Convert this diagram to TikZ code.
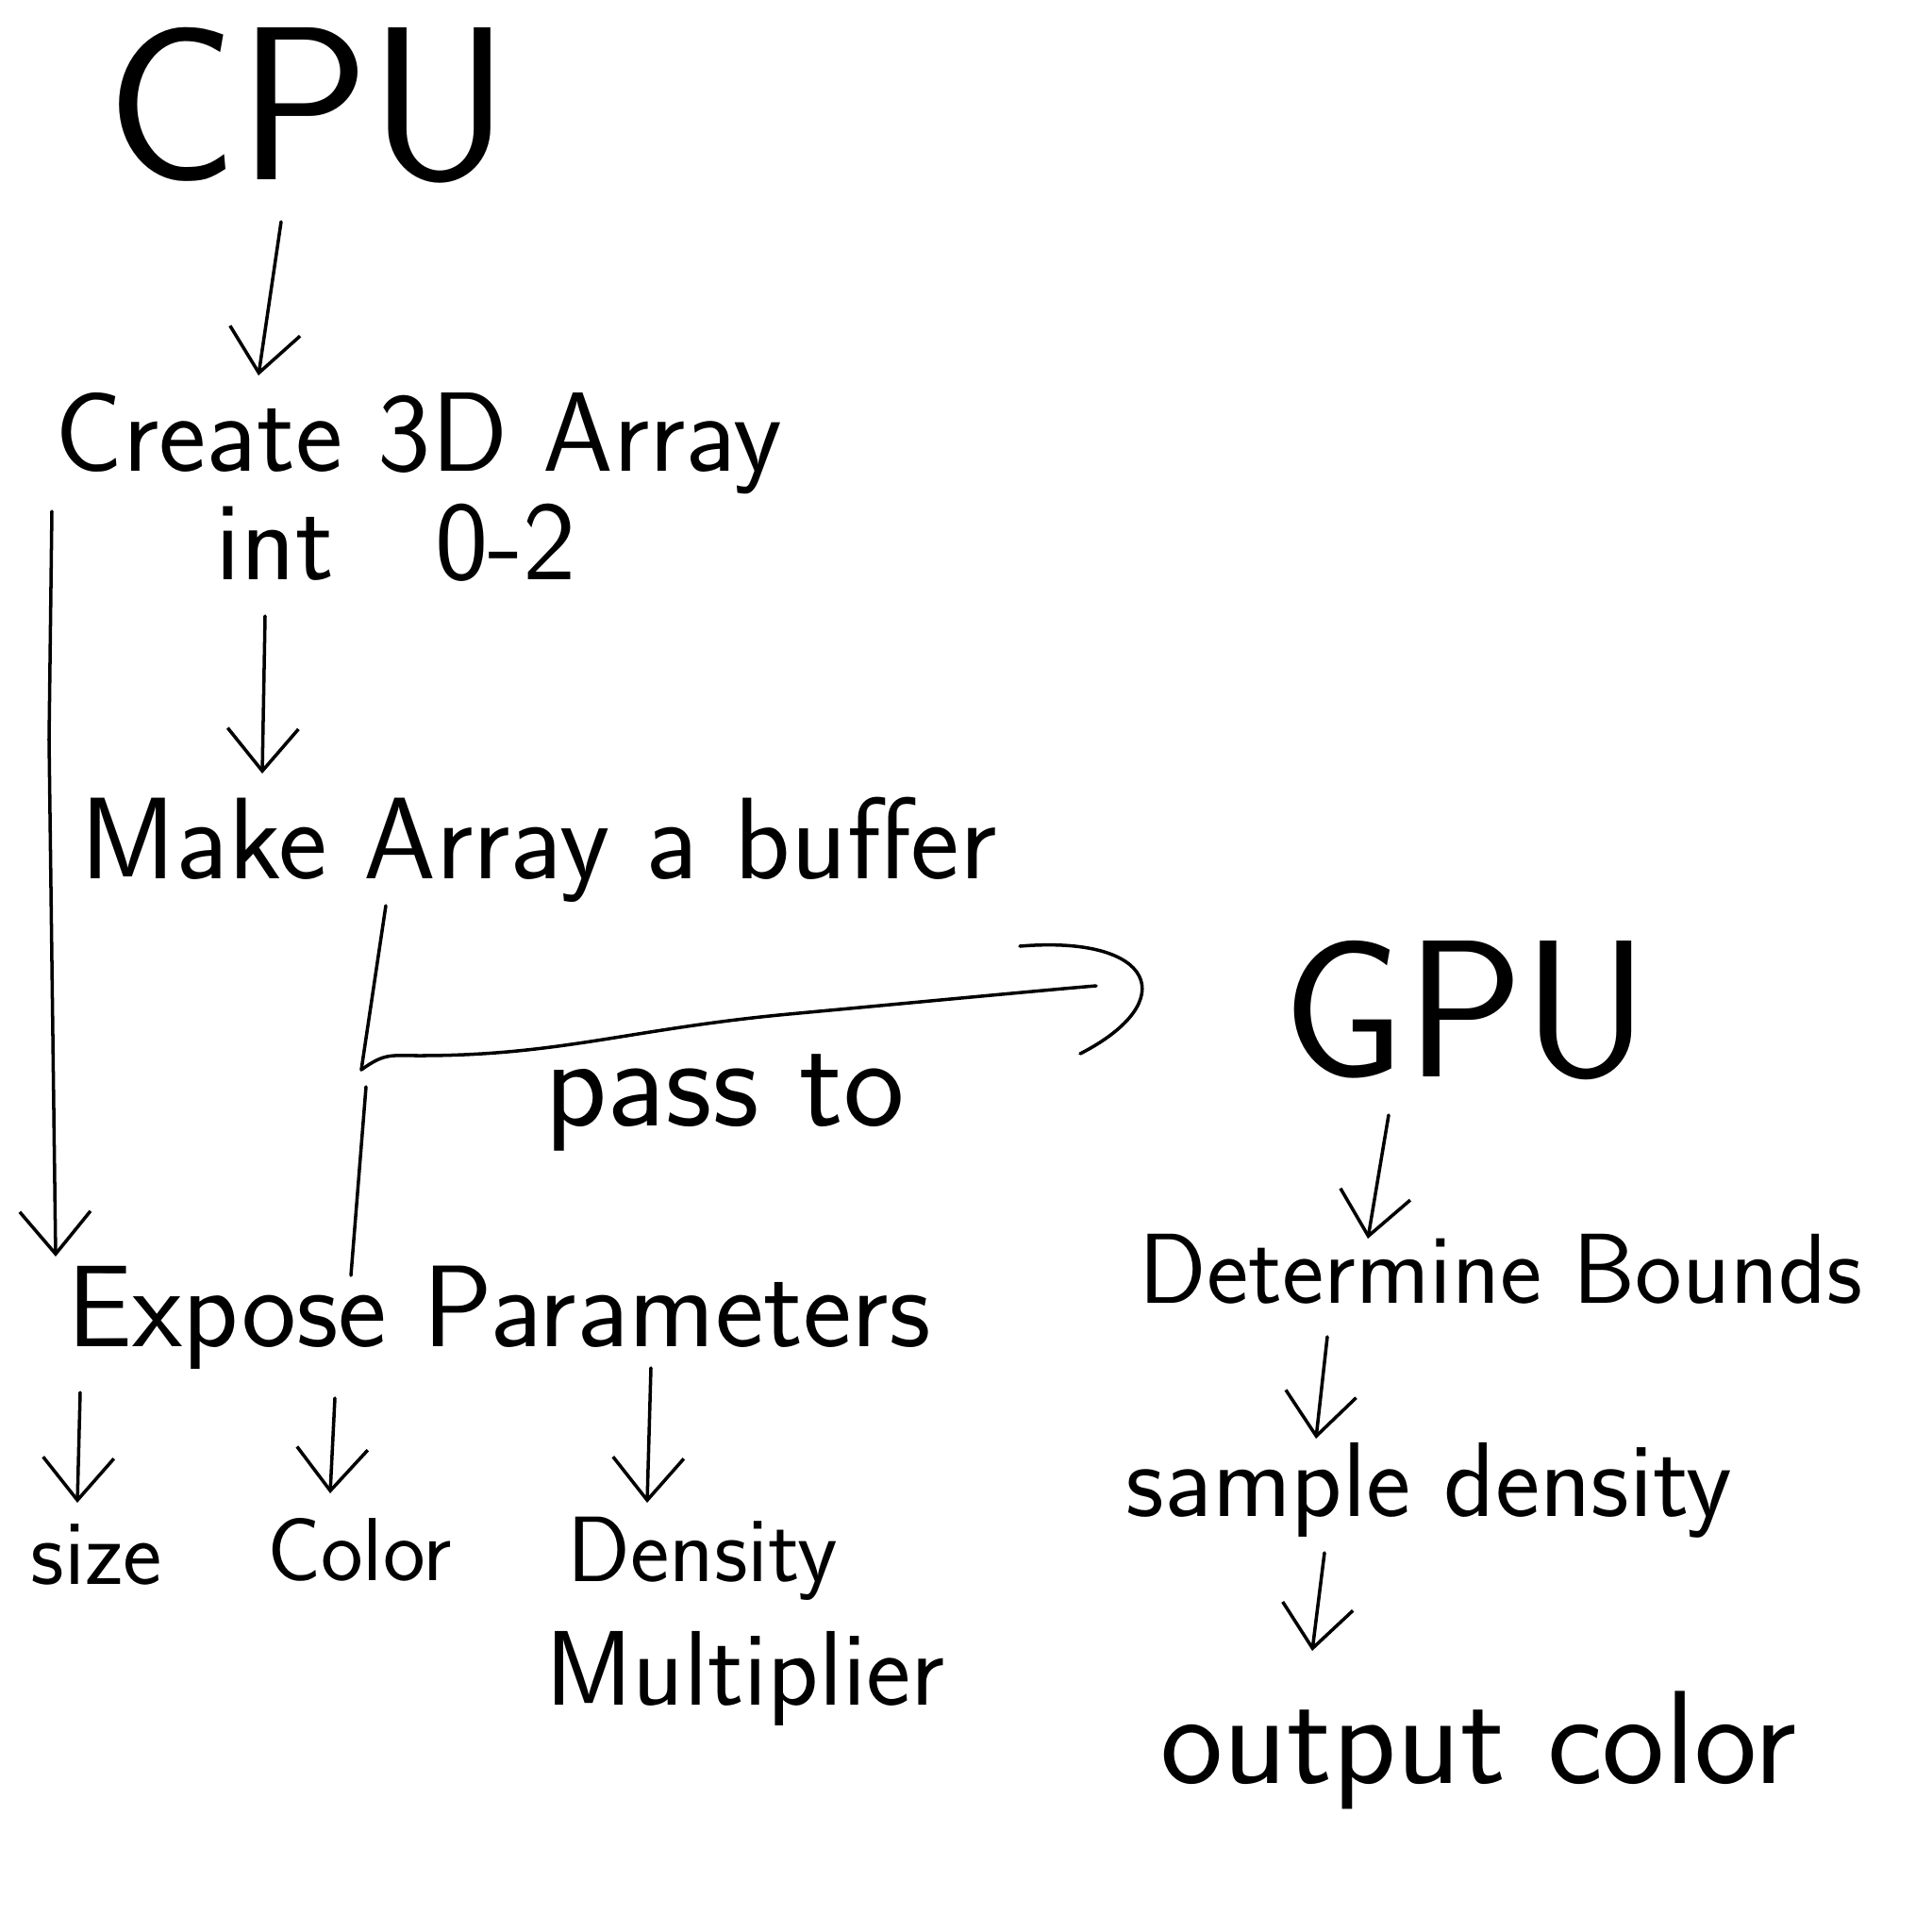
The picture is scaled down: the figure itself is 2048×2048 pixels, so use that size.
\documentclass[tikz,border=0pt]{standalone}
\usetikzlibrary{arrows.meta,calc}
\tikzset{
  txt/.style={font=\sffamily\fontsize{#1}{#1}\selectfont, inner sep=0pt},
  arr/.style={-{Straight Barb[length=0.45cm,width=0.75cm]}, line width=1pt, line cap=round},
  stroke/.style={line width=1pt, line cap=round, line join=round}
}
\begin{document}
\begin{tikzpicture}[x=0.01cm,y=-0.01cm]
\useasboundingbox (0,0) rectangle (2048,2048);
% CPU side
\node[txt=66] (cpu) at (327,112) {CPU};
\node[txt=34] (create) at (444,470) {Create 3D Array};
\node[txt=34] (int) at (420,575) {int\hspace{0.9em}0-2};
\node[txt=35] (make) at (571,901) {Make Array a buffer};
\node[txt=35] (expose) at (529,1397) {Expose Parameters};
\node[txt=28] (size) at (102,1648) {size};
\node[txt=27] (color) at (381,1643) {Color};
\node[txt=28] (density) at (745,1652) {Density};
\node[txt=32] (mult) at (790,1779) {Multiplier};
\node[txt=39] (pass) at (768,1169) {pass to};
% GPU side
\node[txt=59] (gpu) at (1554,1071) {GPU};
\node[txt=30] (determine) at (1591,1345) {Determine Bounds};
\node[txt=32] (sample) at (1515,1580) {sample density};
\node[txt=40] (output) at (1567,1855) {output color};
% arrows
\draw[arr] ($(cpu)+(-29,123)$) -- ($(create)+(-170,-72)$);
\draw[arr] ($(int)+(-139,78)$) -- ($(make)+(-293,-81)$);
\draw[arr] ($(create)+(-389,72)$) -- ($(create)+(-392,314)$) -- ($(expose)+(-470,-65)$);
\draw[arr] ($(expose)+(-444,79)$) -- ($(size)+(-20,-55)$);
\draw[arr] ($(expose)+(-174,85)$) -- ($(color)+(-31,-60)$);
\draw[arr] ($(expose)+(161,53)$) -- ($(density)+(-59,-59)$);
\draw[arr] ($(gpu)+(-82,111)$) -- ($(determine)+(-141,-32)$);
\draw[arr] ($(determine)+(-184,72)$) -- ($(sample)+(-120,-55)$);
\draw[arr] ($(sample)+(-111,66)$) -- ($(output)+(-176,-105)$);
% pass to
\coordinate (join) at ($(make)+(-188,233)$);
\draw[stroke] ($(make)+(-162,59)$) -- (join);
\draw[stroke] ($(join)+(5,18)$) -- ($(expose)+(-157,-45)$);
\draw[stroke] (join) .. controls +(25,-18) and +(-30,0) .. ($(join)+(61,-15)$)
  .. controls +(150,0) and +(-170,16) .. ($(pass)+(68,-94)$)
  .. controls +(130,-12) and +(-60,5) .. ($(gpu)+(-392,-26)$);
\draw[stroke] ($(gpu)+(-473,-68)$) .. controls ($(gpu)+(-330,-80)$) and ($(gpu)+(-300,-10)$) .. ($(gpu)+(-409,46)$);
\end{tikzpicture}
\end{document}
